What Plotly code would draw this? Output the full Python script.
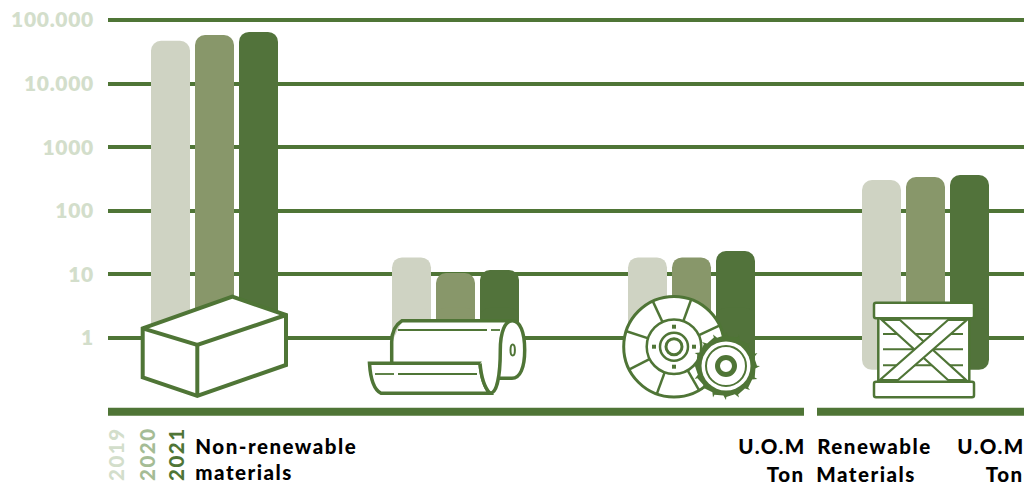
import math
import plotly.graph_objects as go

# ---- data ----
categories = ["Non-renewable materials", "Paper and cardboard", "Abrasives", "Wood packaging"]
years = ["2019", "2020", "2021"]
values_2019 = [47000, 18.5, 18.5, 305]
values_2020 = [58000, 10.5, 18.5, 340]
values_2021 = [65000, 11.7, 23.3, 366]
bar_floor = [0.316, 0.316, 0.316, 0.316]
tick_values = [1, 10, 100, 1000, 10000, 100000]
tick_labels = ["1", "10", "100", "1000", "10.000", "100.000"]

# ---- style / layout ----
W, H = 1024, 485
L, T, B = 108, 16, 412
DECADE = 63.6
GREEN = "#4F7536"
bar_colors = ["#CFD3C3", "#88976A", "#52733B"]
year_colors = ["#D3DECB", "#A5BC95", "#4F7536"]
group_centers = [214.5, 455.5, 691.5, 925.5]
bar_w, bar_pitch = 39, 44
FONT = "Lato"

py_ = lambda y: (B - y) / (B - T)


def pathof(pts, close=True):
    return "M" + " L".join(f"{x},{py_(y):.5f}" for x, y in pts) + (" Z" if close else "")


def curve(cmds):
    out = []
    for c in cmds:
        k, *n = c
        coords = [f"{n[i]},{py_(n[i+1]):.5f}" for i in range(0, len(n), 2)]
        out.append(k + " ".join(coords))
    return " ".join(out)


def poly(pts, fill="white", lw=4, close=True):
    return dict(type="path", path=pathof(pts, close), xref="x", yref="paper",
                fillcolor=fill if close else None, line=dict(color=GREEN, width=lw))


def cpath(cmds, fill="white", lw=4):
    return dict(type="path", path=curve(cmds), xref="x", yref="paper",
                fillcolor=fill, line=dict(color=GREEN, width=lw))


def seg(x0, y0, x1, y1, lw=2, color=GREEN):
    return dict(type="line", x0=x0, x1=x1, y0=py_(y0), y1=py_(y1), xref="x", yref="paper",
                line=dict(color=color, width=lw))


def ell(cx, cy, rx, ry, fill="white", lw=3, color=GREEN):
    return dict(type="circle", x0=cx - rx, x1=cx + rx, y0=py_(cy + ry), y1=py_(cy - ry),
                xref="x", yref="paper", fillcolor=fill, line=dict(color=color, width=lw))


def rect(x0, y0, x1, y1, fill="white", lw=2.5, r=2):
    return cpath([("M", x0 + r, y0), ("L", x1 - r, y0), ("Q", x1, y0, x1, y0 + r),
                  ("L", x1, y1 - r), ("Q", x1, y1, x1 - r, y1), ("L", x0 + r, y1),
                  ("Q", x0, y1, x0, y1 - r), ("L", x0, y0 + r), ("Q", x0, y0, x0 + r, y0), ("Z",)],
                 fill, lw)


fig = go.Figure()
series = [values_2019, values_2020, values_2021]
JOIN = 3  # the two halves of each capsule overlap between 1 and this value
for i, vals in enumerate(series):
    off = (i - 1) * bar_pitch - bar_w / 2
    fig.add_bar(x=group_centers, y=[v - 1 for v in vals], base=1, width=bar_w, offset=off,
                marker=dict(color=bar_colors[i], line=dict(width=0)), name=years[i],
                showlegend=False, hoverinfo="skip")
    fig.add_bar(x=group_centers, y=[f - JOIN for f in bar_floor], base=JOIN, width=bar_w, offset=off,
                marker=dict(color=bar_colors[i], line=dict(width=0)),
                showlegend=False, hoverinfo="skip")

shapes = []
# baseline segments
shapes += [seg(108, 411.7, 804, 411.7, 8), seg(817, 411.7, 1024, 411.7, 8)]

# box icon
shapes += [poly([(142.7, 328.3), (232.3, 296.7), (286, 315), (286, 365), (197.3, 396), (142.7, 377.3)]),
           poly([(142.7, 328.3), (197.3, 345), (286, 315)], close=False),
           seg(197.3, 345, 197.3, 396, 4)]

# roll icon
shapes += [
    dict(type="path", path=pathof([(392, 342), (402, 321), (512, 321), (512, 378), (392, 378)]), xref="x", yref="paper",
         fillcolor="white", line=dict(width=0)),
    cpath([("M", 391.7, 366), ("L", 391.7, 342), ("Q", 391.7, 327, 402, 320.7), ("L", 512.3, 320.7)],
          fill="rgba(0,0,0,0)", lw=3.5),
    cpath([("M", 500.3, 350), ("C", 500.3, 332, 505, 320.7, 512.3, 320.7), ("C", 520, 320.7, 524.7, 332, 524.7, 350),
           ("C", 524.7, 368, 520, 378.3, 512, 378.3), ("L", 499, 378.3)], lw=3.5),
    ell(512.7, 350, 2.2, 5.5, lw=2),
    seg(398, 330, 487, 330, 1.8), seg(491, 330, 500, 330, 1.8),
    cpath([("M", 369.5, 363.3), ("L", 480, 363.3), ("Q", 482, 385, 490, 393.3), ("L", 381, 393.3),
           ("Q", 371, 388, 369.5, 363.3), ("Z",)], lw=3.5),
    cpath([("M", 480, 363.3), ("Q", 482, 385, 490, 393.3), ("C", 497, 393.3, 500.3, 375, 500.3, 350)], lw=3.5),
    seg(375, 374, 394, 374, 1.8), seg(398, 374, 477, 374, 1.8)]

# disc icon
cx, cy = 674, 346.7
shapes.append(ell(cx, cy, 50.3, 50.3, lw=3))
for a in [115, 70, 162, 207, 250, 300, 25, 340]:
    ca, sa = math.cos(math.radians(a)), math.sin(math.radians(a))
    shapes.append(seg(cx + 27 * ca, cy - 27 * sa, cx + 50 * ca, cy - 50 * sa, 2.5))
shapes += [ell(cx, cy, 27.3, 27.3, lw=2.5), ell(cx, cy, 14, 14, lw=2.5), ell(cx, cy, 8, 8, lw=3)]
for a in [0, 90, 180, 270]:
    ca, sa = math.cos(math.radians(a)), math.sin(math.radians(a))
    x, y = cx + 20 * ca, cy - 20 * sa
    shapes.append(poly([(x - 2, y - 2), (x + 2, y - 2), (x + 2, y + 2), (x - 2, y + 2)], fill=GREEN, lw=0))

# saw icon
gx, gy = 726, 366
teeth = []
for k in range(16):
    a0 = math.radians(k * 22.5)
    a1 = math.radians(k * 22.5 + 5)
    a2 = math.radians(k * 22.5 + 22.5)
    teeth += [(gx + 34 * math.cos(a0), gy + 34 * math.sin(a0)),
              (gx + 29.5 * math.cos(a1), gy + 29.5 * math.sin(a1)),
              (gx + 31 * math.cos(a2 - .01), gy + 31 * math.sin(a2 - .01))]
shapes.append(poly(teeth, fill=GREEN, lw=0))
shapes += [ell(gx, gy, 24.5, 24.5, fill="white", lw=0, color="white"),
           ell(gx, gy, 20, 20, lw=2),
           ell(gx, gy, 8.5, 8.5, lw=5)]

# crate icon
shapes.append(rect(878.3, 316, 969.3, 384, lw=2.5))
for y in [334, 349.3, 365.3]:
    shapes.append(seg(883, y, 963, y, 2))
shapes += [poly([(882, 320), (900, 320), (966, 380), (948, 380)], lw=2.2),
           poly([(880, 380), (898, 380), (966.7, 320), (948, 320)], lw=2.2),
           rect(874, 302.7, 974, 318.3), rect(874, 381.7, 974, 397.3)]

# ---- text ----
annots = []


def label(text, x, y, color="black", size=20.5, angle=0):
    annots.append(dict(text=text, x=x, y=py_(y), xref="x", yref="paper", xanchor="center", yanchor="middle",
                       showarrow=False, textangle=angle, font=dict(family=FONT, size=size, color=color, weight=900)))


label("Non-renewable", 275.5, 445.5)
label("materials", 244, 471.5)
label("U.O.M", 771.5, 445.5)
label("Ton", 785.5, 474)
label("Renewable", 874, 445.5)
label("Materials", 865.5, 474)
label("U.O.M", 990.5, 445.5)
label("Ton", 1004.5, 474)
for name, xp, c in zip(years, [116, 147, 176], year_colors):
    label(name, xp, 454, c, 20.5, -90)

fig.update_layout(
    width=W, height=H, margin=dict(l=L, r=0, t=T, b=H - B, pad=0),
    paper_bgcolor="white", plot_bgcolor="white", barmode="overlay", barcornerradius=10,
    showlegend=False, shapes=shapes, annotations=annots,
    xaxis=dict(range=[L, W], visible=False, fixedrange=True),
    yaxis=dict(type="log", range=[-(B - 338) / DECADE, 5 + (20 - T) / DECADE],
               tickmode="array", tickvals=tick_values, ticktext=tick_labels,
               showgrid=True, gridcolor=GREEN, gridwidth=4, zeroline=False, showline=False,
               ticks="", ticklabelstandoff=13, fixedrange=True,
               tickfont=dict(family=FONT, size=21, color="#D3DECB", weight=800)),
)
css = ("document.body.style.margin='0';document.documentElement.style.overflow='hidden';"
       "var s=document.createElement('style');"
       "s.textContent='.annotation-text{letter-spacing:1.5px}.ytick text{letter-spacing:.7px}';"
       "document.head.appendChild(s);")
fig.write_html("out.html", config={"displayModeBar": False}, post_script=css)
